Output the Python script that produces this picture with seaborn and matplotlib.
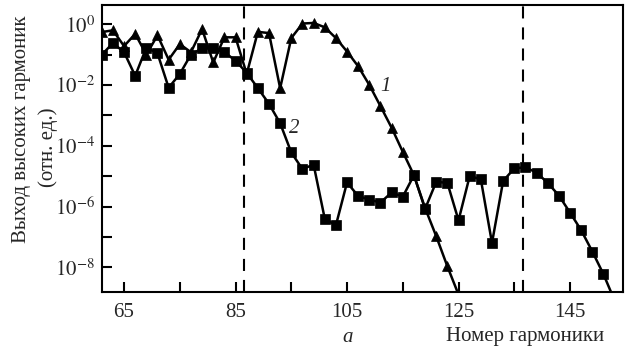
import numpy as np
import pandas as pd
import matplotlib
matplotlib.use("Agg")
import matplotlib.pyplot as plt
import seaborn as sns

# ---- data ----
harm2 = list(range(61, 155, 2))
yield2 = [0.098, 0.24, 0.12, 0.020, 0.17, 0.11, 0.0081, 0.023, 0.10, 0.16,
          0.16, 0.12, 0.063, 0.025, 0.0079, 0.0024, 5.5e-4, 6.0e-5, 1.7e-5, 2.4e-5,
          4.0e-7, 2.4e-7, 6.2e-6, 2.2e-6, 1.7e-6, 1.35e-6, 2.9e-6, 2.1e-6, 1.07e-5, 8.3e-7,
          6.5e-6, 6.0e-6, 3.5e-7, 1.0e-5, 7.9e-6, 6.3e-8, 6.9e-6, 1.8e-5, 1.95e-5, 1.3e-5,
          6.0e-6, 2.3e-6, 6.3e-7, 1.66e-7, 3.3e-8, 5.9e-9, 8e-10]
harm1 = list(range(61, 127, 2))
yield1 = [0.55, 0.63, 0.19, 0.48, 0.10, 0.43, 0.068, 0.22, 0.12, 0.69,
          0.055, 0.37, 0.37, 0.023, 0.56, 0.51, 0.0078, 0.35, 1.05, 1.10,
          0.79, 0.35, 0.126, 0.041, 0.010, 0.0020, 3.9e-4, 6.3e-5, 1.07e-5, 8.9e-7,
          1.05e-7, 1.07e-8, 1.26e-9]
cutoffs = [86.6, 136.6]
xticks = [65, 75, 85, 95, 105, 115, 125, 135, 145]
xticklabels = ["65", "", "85", "", "105", "", "125", "", "145"]
yticks = [1e0, 1e-1, 1e-2, 1e-3, 1e-4, 1e-5, 1e-6, 1e-7, 1e-8]
yticklabels = [r"$10^{0}$", "", r"$10^{-2}$", "", r"$10^{-4}$", "", r"$10^{-6}$", "", r"$10^{-8}$"]

df1 = pd.DataFrame({"h": harm1, "y": yield1})
df2 = pd.DataFrame({"h": harm2, "y": yield2})

sns.set_style("ticks")
plt.rcParams["font.family"] = ["Liberation Serif", "DejaVu Serif"]
plt.rcParams["mathtext.fontset"] = "stix"

fig = plt.figure(figsize=(6.32, 3.49), dpi=100)
ax = fig.add_axes([0.161, 0.1625, 0.8243, 0.8232])

sns.lineplot(data=df2, x="h", y="y", ax=ax, color="black", lw=1.8,
             marker="s", markersize=6.8, markeredgecolor="black", markeredgewidth=0.5,
             estimator=None)
sns.lineplot(data=df1, x="h", y="y", ax=ax, color="black", lw=1.8,
             marker="^", markersize=7, markeredgecolor="black", markeredgewidth=0.5,
             estimator=None)

for c in cutoffs:
    ax.axvline(c, color="black", lw=1.5, dashes=(5.8, 4.3))

ax.set_yscale("log")
ax.set_xlim(61.0, 154.45)
ax.set_ylim(10 ** -8.823, 10 ** 0.632)
ax.set_xticks(xticks)
ax.set_xticklabels(xticklabels)
ax.set_yticks(yticks)
ax.set_yticklabels(yticklabels)
ax.minorticks_off()
ax.tick_params(axis="both", direction="in", length=7, width=1.5, labelsize=15, color="black")
ax.tick_params(axis="x", pad=8)
ax.tick_params(axis="y", pad=5)
for s in ax.spines.values():
    s.set_linewidth(1.5)
    s.set_color("black")
ax.set_xlabel("")
ax.set_ylabel("")

ax.text(111.9, 10 ** -2.06, "1", fontsize=15, style="italic", ha="center", va="center")
ax.text(95.5, 10 ** -3.43, "2", fontsize=15, style="italic", ha="center", va="center")

fig.text(348 / 632, 1 - 337 / 349, "a", fontsize=15, style="italic", ha="center", va="center")
fig.text(525 / 632, 1 - 337 / 349, "Номер гармоники", fontsize=15, ha="center", va="center")
fig.text(21.7 / 632, 1 - 129 / 349, "Выход высоких гармоник", fontsize=15, rotation=90,
         ha="center", va="center")
fig.text(48.3 / 632, 1 - 147 / 349, "(отн. ед.)", fontsize=15, rotation=90,
         ha="center", va="center")

fig.savefig("out.png", dpi=100)
